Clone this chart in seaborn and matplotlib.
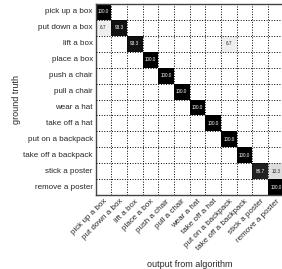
import matplotlib
matplotlib.use('Agg')
import matplotlib.pyplot as plt
import seaborn as sns
import numpy as np
import pandas as pd

actions = ['pick up a box', 'put down a box', 'lift a box', 'place a box',
           'push a chair', 'pull a chair', 'wear a hat', 'take off a hat',
           'put on a backpack', 'take off a backpack', 'stick a poster',
           'remove a poster']

# non-zero cells of the confusion matrix: (ground truth row, predicted col, percent)
rows = [0, 1, 1, 2, 2, 3, 4, 5, 6, 7, 8, 9, 10, 10, 11]
cols = [0, 0, 1, 2, 8, 3, 4, 5, 6, 7, 8, 9, 10, 11, 11]
vals = [100.0, 6.7, 93.3, 93.3, 6.7, 100.0, 100.0, 100.0, 100.0, 100.0,
        100.0, 100.0, 86.7, 13.3, 100.0]

n = len(actions)
mat = np.zeros((n, n))
for r, c, v in zip(rows, cols, vals):
    mat[r, c] = v
df = pd.DataFrame(mat, index=actions, columns=actions)
labels = np.where(mat > 0, np.vectorize(lambda v: f'{v:.1f}')(mat), '')

sns.set_style('white')
plt.rcParams['font.family'] = ['Liberation Sans', 'DejaVu Sans']

fig = plt.figure(figsize=(2.82, 2.69), dpi=100)
ax = fig.add_axes([0.339, 0.275, 0.667, 0.710])
sns.heatmap(df, ax=ax, cmap='gray_r', vmin=0, vmax=100, cbar=False,
            annot=labels, fmt='', annot_kws={'fontsize': 3.3})

ax.set_xticks(np.arange(n) + 0.5)
ax.set_xticklabels(actions, rotation=45, ha='right', rotation_mode='anchor', fontsize=5.8)
ax.set_yticks(np.arange(n) + 0.5)
ax.set_yticklabels(actions, rotation=0, fontsize=5.8)
ax.tick_params(length=0, pad=2)

ax.set_xticks(np.arange(1, n), minor=True)
ax.set_yticks(np.arange(1, n), minor=True)
ax.tick_params(which='minor', length=0)
ax.grid(which='minor', color='black', linestyle=':', linewidth=0.7)
ax.set_axisbelow(False)

for side in ['left', 'bottom', 'top', 'right']:
    ax.spines[side].set_visible(True)
    ax.spines[side].set_color('#444444')
    ax.spines[side].set_linewidth(1.0)

ax.set_ylabel('ground truth', fontsize=6.5, labelpad=2)
ax.set_xlabel('output from algorithm', fontsize=6.5, labelpad=6)

fig.savefig('out.png', dpi=100)
